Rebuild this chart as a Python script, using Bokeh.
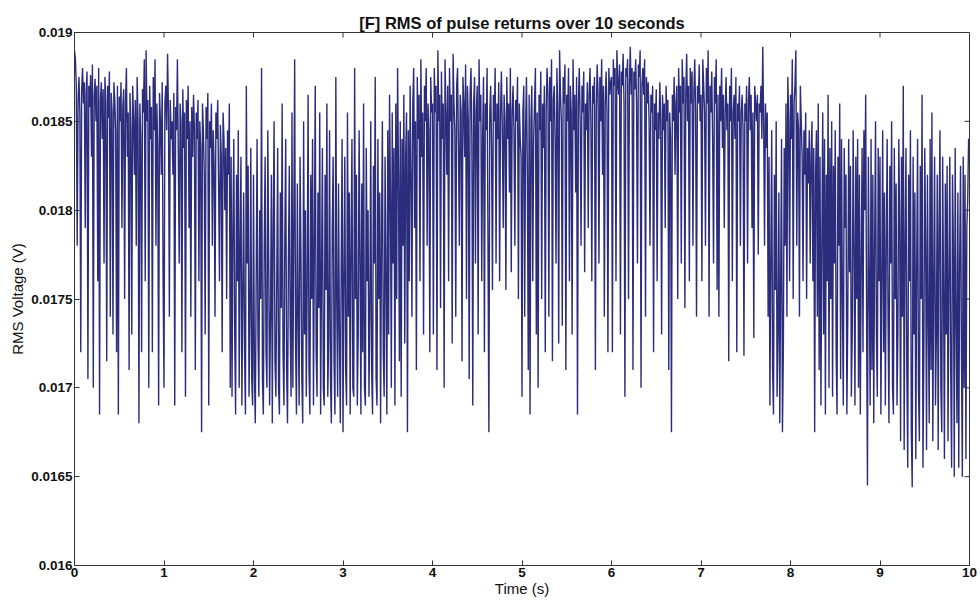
import math

from bokeh.plotting import figure
from bokeh.models import FixedTicker, CustomJSTickFormatter, Range1d
from bokeh.embed import file_html
from bokeh.resources import INLINE

# RMS of each pulse return, in millivolts, one sample every 0.01 s over 10 s
sample_period_s = 0.01
rms_mV = [
    # 0 - 1 s
    18.90, 18.85, 18.70, 17.80, 18.62, 18.75, 18.55, 17.20, 18.68, 18.80, 18.60, 18.72, 17.90, 18.66, 18.78, 17.05, 18.70, 18.58, 18.76, 18.30, 18.82, 17.00, 18.64, 18.74, 18.50,
    18.70, 17.60, 18.80, 16.85, 18.62, 18.72, 18.40, 18.68, 17.70, 18.75, 18.60, 17.15, 18.70, 18.52, 18.78, 17.40, 18.66, 18.55, 17.30, 18.72, 18.62, 18.45, 17.20, 18.70, 16.85,
    18.64, 18.50, 18.72, 17.90, 18.58, 18.68, 17.50, 18.60, 18.80, 18.30, 18.55, 17.10, 18.66, 18.45, 17.30, 18.70, 18.52, 18.20, 18.62, 17.80, 18.75, 18.48, 16.80, 18.60, 18.40,
    17.20, 18.68, 18.55, 18.85, 17.60, 18.90, 18.50, 18.62, 17.00, 18.70, 18.40, 18.58, 17.20, 18.75, 18.45, 18.85, 17.80, 18.60, 18.35, 16.90, 18.66, 18.50, 18.20, 18.72, 17.60,
    # 1 - 2 s
    17.00, 18.60, 18.70, 18.45, 18.88, 18.55, 17.40, 18.62, 18.40, 18.50, 18.20, 18.66, 16.90, 18.58, 18.45, 18.85, 18.30, 17.70, 18.60, 18.50, 17.20, 18.68, 18.35, 18.55, 16.95,
    18.62, 18.40, 18.70, 17.90, 18.50, 17.40, 18.58, 18.30, 18.65, 18.45, 17.10, 18.55, 18.40, 18.62, 17.60, 18.50, 18.35, 16.75, 18.60, 18.45, 18.20, 17.30, 18.58, 18.40, 18.66,
    16.90, 18.50, 18.35, 18.60, 17.80, 18.45, 18.25, 17.40, 18.55, 18.40, 18.62, 18.15, 17.60, 18.48, 18.30, 17.20, 18.55, 18.40, 18.00, 18.35, 17.50, 18.45, 18.20, 18.60, 17.00,
    18.30, 16.95, 17.90, 18.40, 17.30, 16.85, 18.20, 17.60, 18.45, 17.00, 17.80, 18.30, 16.90, 17.50, 18.10, 17.20, 16.85, 18.70, 17.70, 18.25, 16.95, 17.40, 18.35, 17.05, 16.90,
    # 2 - 3 s
    18.20, 17.10, 16.80, 17.60, 18.40, 17.30, 16.95, 18.00, 17.50, 18.80, 17.05, 16.85, 17.80, 18.30, 17.20, 17.00, 18.45, 17.70, 16.90, 17.40, 18.20, 16.80, 17.90, 18.50, 17.15,
    16.95, 17.60, 18.35, 17.00, 16.85, 18.10, 17.45, 18.60, 17.20, 16.90, 17.85, 18.40, 17.10, 16.80, 17.70, 18.25, 17.35, 16.95, 18.55, 17.00, 17.90, 18.85, 17.25, 16.85, 18.15,
    17.40, 16.90, 18.30, 17.75, 17.05, 16.80, 18.50, 17.30, 18.00, 16.95, 17.60, 18.65, 17.10, 16.85, 18.20, 17.50, 18.40, 16.90, 17.80, 18.70, 17.20, 16.95, 18.10, 17.45, 18.55,
    16.85, 17.65, 18.35, 17.00, 16.90, 18.20, 17.55, 18.60, 16.95, 17.30, 18.45, 17.05, 16.80, 17.90, 18.30, 17.15, 16.85, 18.75, 17.50, 16.95, 18.15, 17.30, 16.80, 17.70, 18.40,
    # 3 - 4 s
    16.75, 17.60, 18.30, 17.10, 16.90, 18.55, 17.40, 18.10, 16.85, 17.80, 18.40, 17.00, 16.95, 18.80, 17.50, 18.20, 16.90, 17.30, 18.45, 17.75, 16.85, 18.15, 17.20, 18.60, 17.00,
    16.90, 18.35, 17.60, 18.00, 16.95, 17.40, 18.50, 17.10, 16.85, 18.25, 17.70, 18.75, 17.05, 16.90, 18.40, 17.50, 18.10, 16.80, 17.85, 18.50, 17.20, 16.95, 18.30, 17.60, 16.85,
    18.45, 17.30, 18.65, 18.10, 17.00, 18.55, 17.70, 18.35, 16.90, 18.60, 17.50, 18.80, 18.20, 17.15, 18.50, 16.95, 18.40, 17.80, 18.65, 17.25, 18.30, 18.55, 16.75, 18.45, 17.60,
    18.70, 18.20, 17.40, 18.60, 18.80, 17.90, 18.50, 17.10, 18.75, 18.40, 18.65, 17.60, 18.85, 18.30, 18.55, 17.30, 18.70, 18.50, 18.80, 17.80, 18.60, 18.45, 17.20, 18.75, 18.55,
    # 4 - 5 s
    18.60, 17.30, 18.80, 18.55, 18.70, 17.10, 18.90, 18.50, 18.65, 17.45, 18.78, 18.40, 18.60, 17.00, 18.85, 18.55, 18.20, 18.70, 17.60, 18.80, 18.50, 18.65, 17.25, 18.88, 18.60,
    18.45, 17.40, 18.70, 18.80, 18.35, 17.80, 18.65, 18.55, 17.15, 18.75, 18.60, 18.30, 18.82, 17.50, 18.70, 18.50, 17.05, 18.65, 18.80, 18.40, 16.90, 18.60, 18.75, 17.70, 18.55,
    18.70, 17.30, 18.85, 18.50, 18.65, 17.60, 18.40, 18.75, 17.20, 18.60, 18.45, 18.80, 17.80, 16.75, 18.55, 18.70, 18.35, 17.55, 18.65, 18.50, 18.80, 17.70, 18.60, 18.40, 18.72,
    17.60, 18.55, 18.78, 18.45, 17.90, 18.65, 18.50, 17.55, 18.75, 18.40, 18.60, 18.10, 18.80, 17.65, 18.55, 18.70, 18.45, 17.80, 18.62, 18.50, 18.75, 17.50, 18.60, 18.40, 18.30,
    # 5 - 6 s
    16.95, 18.55, 18.70, 17.40, 18.45, 18.75, 18.20, 17.10, 18.65, 16.85, 18.50, 18.70, 17.60, 18.40, 18.60, 18.80, 17.30, 18.55, 17.00, 18.65, 18.45, 18.78, 17.50, 18.60, 18.35,
    18.70, 17.20, 18.55, 18.80, 18.65, 17.40, 18.75, 18.50, 18.85, 17.15, 18.62, 18.70, 18.40, 17.70, 18.80, 18.55, 17.25, 18.90, 18.65, 18.50, 17.35, 18.75, 18.60, 18.82, 17.10,
    18.65, 18.50, 18.80, 17.60, 18.70, 18.55, 17.30, 18.85, 18.45, 18.65, 18.10, 18.75, 16.85, 18.60, 18.80, 18.50, 17.80, 18.70, 18.55, 18.78, 17.65, 18.60, 18.45, 18.72, 17.90,
    18.65, 18.80, 18.50, 17.60, 18.70, 18.60, 18.75, 17.10, 18.55, 18.82, 18.65, 17.70, 18.75, 18.50, 18.85, 18.20, 18.70, 17.40, 18.60, 18.78, 18.55, 17.20, 18.80, 18.65, 18.72,
    # 6 - 7 s
    18.75, 17.20, 18.85, 18.70, 18.80, 17.60, 18.90, 18.72, 18.65, 18.82, 17.30, 18.78, 18.70, 18.88, 18.60, 16.95, 18.80, 18.75, 18.85, 17.50, 18.70, 18.92, 18.65, 18.80, 17.10,
    18.78, 18.68, 18.85, 18.60, 17.70, 18.82, 18.75, 18.90, 17.00, 18.70, 18.80, 18.65, 18.85, 17.40, 18.75, 18.60, 18.72, 18.50, 17.80, 18.65, 18.55, 18.70, 17.20, 18.60, 18.45,
    18.68, 17.60, 18.55, 18.40, 18.72, 18.50, 17.30, 18.65, 18.45, 18.60, 17.90, 18.70, 18.50, 18.62, 17.10, 18.55, 18.40, 16.75, 18.65, 18.50, 18.75, 18.20, 18.60, 18.70, 17.50,
    18.80, 18.55, 18.70, 17.70, 18.85, 18.60, 18.75, 17.45, 18.65, 18.88, 18.50, 18.70, 17.60, 18.80, 18.60, 18.78, 17.80, 18.65, 18.85, 18.55, 17.40, 18.70, 18.60, 18.82, 18.50,
    # 7 - 8 s
    18.65, 17.60, 18.85, 18.70, 18.55, 17.80, 18.80, 18.60, 18.90, 17.40, 18.70, 18.55, 18.78, 18.40, 17.70, 18.75, 18.60, 18.85, 17.55, 18.65, 17.40, 18.70, 18.50, 18.80, 18.35,
    18.65, 17.90, 18.55, 18.75, 18.45, 18.60, 17.15, 18.70, 18.50, 18.80, 17.60, 18.55, 18.65, 18.40, 18.75, 17.20, 18.60, 18.50, 18.70, 17.80, 18.55, 18.65, 18.45, 17.18, 18.60,
    18.50, 18.70, 17.70, 18.60, 18.75, 18.45, 18.65, 17.90, 18.55, 17.28, 18.70, 18.60, 18.50, 18.65, 17.75, 18.60, 18.55, 18.70, 18.40, 18.92, 18.50, 17.80, 18.60, 18.35, 18.55,
    17.40, 18.30, 16.90, 17.70, 18.45, 17.10, 16.85, 18.20, 17.55, 18.50, 16.95, 17.30, 18.10, 16.80, 17.60, 18.40, 16.75, 17.20, 18.35, 17.80, 18.60, 17.40, 18.75, 18.50, 17.60,
    # 8 - 9 s
    18.65, 18.40, 18.85, 17.50, 18.60, 18.70, 18.90, 17.80, 18.55, 18.45, 17.40, 18.70, 18.50, 18.30, 17.60, 18.45, 18.20, 18.55, 17.50, 18.35, 18.15, 18.45, 17.70, 18.30, 18.50,
    17.60, 18.35, 16.75, 18.20, 18.45, 17.40, 18.60, 17.10, 18.30, 16.90, 17.80, 18.55, 17.30, 18.40, 16.85, 18.20, 17.60, 18.65, 17.00, 18.35, 17.50, 18.50, 16.95, 18.25, 17.70,
    18.45, 17.20, 16.85, 18.30, 17.80, 18.60, 17.05, 18.40, 17.50, 16.90, 18.35, 17.90, 18.20, 16.85, 17.40, 18.40, 17.65, 18.25, 16.95, 17.30, 18.45, 17.80, 16.90, 18.30, 17.50,
    18.40, 17.00, 18.20, 16.85, 17.70, 18.35, 17.20, 18.45, 18.00, 18.65, 17.40, 16.45, 18.30, 17.60, 16.90, 18.40, 17.10, 18.20, 16.80, 17.80, 18.50, 17.30, 16.95, 18.35, 17.60,
    # 9 - 10 s
    18.30, 16.85, 17.60, 18.45, 17.20, 18.10, 16.90, 17.80, 18.40, 17.40, 16.80, 18.25, 17.70, 18.50, 17.00, 16.85, 18.35, 17.50, 18.15, 16.90, 17.30, 18.40, 17.90, 16.70, 18.30,
    17.40, 18.70, 16.65, 17.80, 18.35, 17.10, 16.55, 18.20, 17.60, 18.45, 16.75, 16.44, 18.30, 17.30, 18.10, 16.60, 17.70, 18.40, 17.00, 16.70, 18.25, 17.50, 18.65, 16.55, 17.20,
    18.35, 17.80, 16.65, 18.20, 17.40, 16.80, 18.40, 17.10, 18.55, 16.70, 17.60, 18.30, 16.90, 17.30, 18.20, 16.65, 17.90, 18.45, 17.00, 16.75, 18.30, 17.55, 16.60, 18.15, 17.30,
    18.25, 16.70, 17.60, 18.30, 17.10, 16.55, 18.20, 17.80, 16.50, 18.35, 17.40, 16.80, 18.10, 16.55, 17.70, 18.25, 17.20, 16.50, 18.30, 17.00, 18.20, 16.60, 17.90, 18.05, 18.40,
    18.40,
]

x_ticks = [0, 1, 2, 3, 4, 5, 6, 7, 8, 9, 10]
y_ticks = [0.016, 0.0165, 0.017, 0.0175, 0.018, 0.0185, 0.019]

time_s = [i * sample_period_s for i in range(len(rms_mV))]
rms_V = [v / 1000.0 for v in rms_mV]

FONT = "Liberation Sans"
INK = "#111111"
FRAME = "#333333"

p = figure(
    width=980, height=606,
    output_backend="svg", toolbar_location=None,
    x_range=Range1d(x_ticks[0], x_ticks[-1]), y_range=Range1d(y_ticks[0], y_ticks[-1]),
    min_border_left=74, min_border_right=11, min_border_top=32, min_border_bottom=41,
    x_axis_label="Time (s)", y_axis_label="RMS Voltage (V)",
    title="[F] RMS of pulse returns over 10 seconds",
)
p.background_fill_color = "white"
p.border_fill_color = "white"
p.outline_line_color = FRAME
p.outline_line_width = 1
p.xgrid.visible = False
p.ygrid.visible = False

p.title.align = "center"
p.title.text_font = FONT
p.title.text_font_size = "16.5px"
p.title.text_font_style = "bold"
p.title.text_color = INK
p.title.offset = 0
p.title.standoff = 2

p.line(time_s, rms_V, line_color="#2c2c7c", line_width=1.4)

# mirrored inward ticks along the top and right edges of the box
p.scatter(x_ticks, [y_ticks[-1]] * len(x_ticks), marker="dash", angle=math.pi / 2,
          size=10, line_color=FRAME, line_width=1)
p.scatter([x_ticks[-1]] * len(y_ticks), y_ticks, marker="dash", angle=0,
          size=10, line_color=FRAME, line_width=1)

fmt = CustomJSTickFormatter(code="return String(tick);")

for ax, ticks in ((p.xaxis[0], x_ticks), (p.yaxis[0], y_ticks)):
    ax.ticker = FixedTicker(ticks=ticks)
    ax.formatter = fmt
    ax.axis_line_color = None
    ax.major_tick_in = 5
    ax.major_tick_out = 0
    ax.major_tick_line_color = FRAME
    ax.minor_tick_line_color = None
    ax.major_label_text_font = FONT
    ax.major_label_text_font_style = "bold"
    ax.major_label_text_font_size = "13.5px"
    ax.major_label_text_color = INK
    ax.major_label_standoff = 2
    ax.axis_label_text_font = FONT
    ax.axis_label_text_font_style = "normal"
    ax.axis_label_text_font_size = "15px"
    ax.axis_label_text_color = INK

p.xaxis[0].axis_label_standoff = 0
p.yaxis[0].axis_label_standoff = 2

open("out.html", "w").write(file_html(p, INLINE))
